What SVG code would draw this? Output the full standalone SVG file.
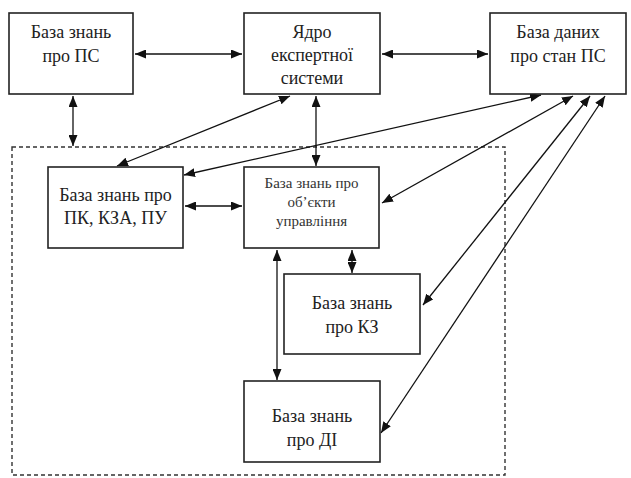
<svg xmlns="http://www.w3.org/2000/svg" width="631" height="478" viewBox="0 0 631 478">
<defs>
<marker id="ah" viewBox="0 0 11 9" refX="11" refY="4.5" markerWidth="11" markerHeight="9" markerUnits="userSpaceOnUse" orient="auto-start-reverse">
<path d="M0,0 L11,4.5 L0,9 Z" fill="#111"/>
</marker>
</defs>
<style>
.box{fill:#fff;stroke:#222;stroke-width:1.6}
.t{font-family:'Liberation Serif','DejaVu Serif',serif;font-size:18px;fill:#222;text-anchor:middle}
.ts{font-family:'Liberation Serif','DejaVu Serif',serif;font-size:15px;fill:#333;text-anchor:middle}
.c{stroke:#111;stroke-width:1.3;fill:none;marker-start:url(#ah);marker-end:url(#ah)}
.dash{fill:none;stroke:#333;stroke-width:1.4;stroke-dasharray:4,3}
</style>
<rect width="631" height="478" fill="#fff"/>
<rect class="dash" x="12" y="147" width="493" height="328"/>
<g id="connectors">
<line class="c" x1="135" y1="54" x2="242" y2="54"/>
<line class="c" x1="382" y1="54" x2="488" y2="54"/>
<line class="c" x1="73" y1="96" x2="73" y2="146"/>
<line class="c" x1="316" y1="96" x2="316" y2="166"/>
<line class="c" x1="290" y1="96" x2="117" y2="166"/>
<line class="c" x1="541" y1="95" x2="184" y2="175"/>
<line class="c" x1="573" y1="96" x2="382" y2="203"/>
<line class="c" x1="590" y1="96" x2="423" y2="305"/>
<line class="c" x1="605" y1="96" x2="381" y2="433"/>
<line class="c" x1="185" y1="206" x2="242" y2="206"/>
<line class="c" x1="352" y1="250" x2="352" y2="273"/>
<line class="c" x1="277" y1="250" x2="277" y2="380"/>
</g>
<g id="n1">
<rect class="box" x="9" y="13" width="124" height="81"/>
<text class="t" x="71" y="38">База знань</text>
<text class="t" x="71" y="62">про ПС</text>
</g>
<g id="n2">
<rect class="box" x="244" y="13" width="136" height="81"/>
<text class="t" x="312" y="38">Ядро</text>
<text class="t" x="312" y="61">експертної</text>
<text class="t" x="312" y="84">системи</text>
</g>
<g id="n3">
<rect class="box" x="490" y="13" width="136" height="81"/>
<text class="t" x="558" y="38">База даних</text>
<text class="t" x="558" y="62">про стан ПС</text>
</g>
<g id="n4">
<rect class="box" x="48" y="167" width="135" height="81"/>
<text class="t" x="115.5" y="201">База знань про</text>
<text class="t" x="115.5" y="224">ПК, КЗА, ПУ</text>
</g>
<g id="n5">
<rect class="box" x="244" y="167" width="135" height="81"/>
<text class="ts" x="311.5" y="188">База знань про</text>
<text class="ts" x="311.5" y="207">об’єкти</text>
<text class="ts" x="311.5" y="226">управління</text>
</g>
<g id="n6">
<rect class="box" x="284" y="274" width="136" height="80"/>
<text class="t" x="352" y="309">База знань</text>
<text class="t" x="352" y="333">про КЗ</text>
</g>
<g id="n7">
<rect class="box" x="244" y="381" width="136" height="81"/>
<text class="t" x="312" y="422">База знань</text>
<text class="t" x="312" y="446">про ДІ</text>
</g>
</svg>
